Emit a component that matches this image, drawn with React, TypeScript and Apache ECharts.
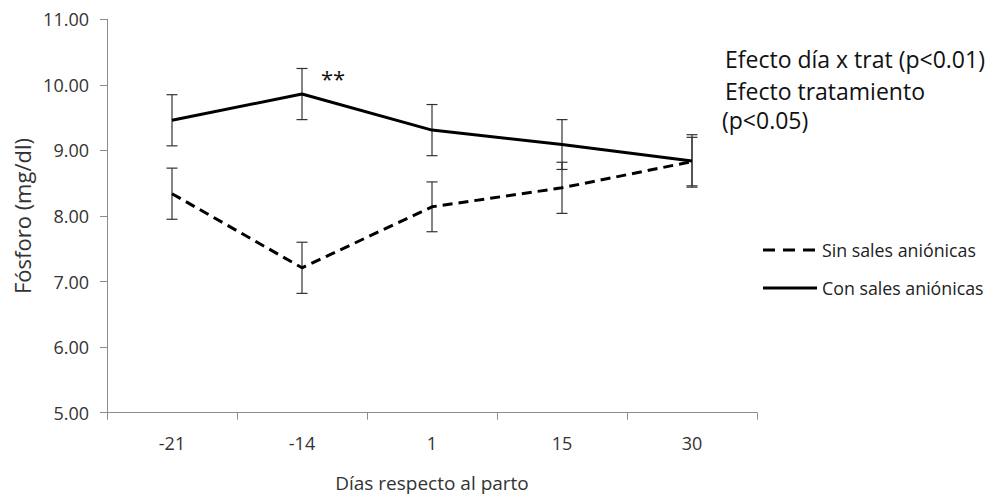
import React, { useEffect, useRef } from "react";
import * as echarts from "echarts";

const categories = ["-21", "-14", "1", "15", "30"];
const sinValues = [8.34, 7.21, 8.14, 8.43, 8.83];
const sinErr = [0.39, 0.39, 0.38, 0.39, 0.37];
const conValues = [9.46, 9.86, 9.31, 9.09, 8.84];
const conErr = [0.39, 0.39, 0.39, 0.38, 0.4];
const yTicks = [5, 6, 7, 8, 9, 10, 11];
const legendNames = ["Sin sales aniónicas", "Con sales aniónicas"];
const notes = ["Efecto día x trat (p<0.01)", "Efecto tratamiento", "(p<0.05)"];

const FONT = "Open Sans";
const TICK_SIZE = 18;
const TICK_COLOR = "#333333";

function errorSeries(name: string, values: number[], errs: number[]) {
  return {
    type: "custom",
    name: name + "-err",
    silent: true,
    z: 1,
    data: values.map((v, i) => [i, v - errs[i], v + errs[i]]),
    renderItem: (params: any, api: any) => {
      const x = api.value(0);
      const lo = api.coord([x, api.value(1)]);
      const hi = api.coord([x, api.value(2)]);
      const cap = 5.5;
      const st = { stroke: "#333333", lineWidth: 1.2 };
      return {
        type: "group",
        children: [
          { type: "line", shape: { x1: lo[0], y1: lo[1], x2: hi[0], y2: hi[1] }, style: st },
          { type: "line", shape: { x1: lo[0] - cap, y1: lo[1], x2: lo[0] + cap, y2: lo[1] }, style: st },
          { type: "line", shape: { x1: hi[0] - cap, y1: hi[1], x2: hi[0] + cap, y2: hi[1] }, style: st },
        ],
      };
    },
    encode: { x: 0, y: [1, 2] },
  };
}

// tick labels drawn through the axes' own scales
const yTickLabelSeries = {
  type: "custom",
  name: "y-ticks",
  silent: true,
  clip: false,
  z: 5,
  data: yTicks.map((v) => [0, v]),
  encode: { x: 0, y: 1 },
  renderItem: (params: any, api: any) => {
    const p = api.coord([0, api.value(1)]);
    return {
      type: "text",
      x: params.coordSys.x - 18,
      y: p[1],
      style: {
        text: yTicks[params.dataIndex].toFixed(2),
        fontFamily: FONT,
        fontSize: TICK_SIZE,
        fill: TICK_COLOR,
        align: "right",
        verticalAlign: "middle",
      },
    };
  },
};

const xTickLabelSeries = {
  type: "custom",
  name: "x-ticks",
  silent: true,
  clip: false,
  z: 5,
  data: categories.map((c, i) => [i, yTicks[0]]),
  encode: { x: 0, y: 1 },
  renderItem: (params: any, api: any) => {
    const p = api.coord([api.value(0), api.value(1)]);
    return {
      type: "text",
      x: p[0],
      y: p[1] + 30,
      style: {
        text: categories[params.dataIndex],
        fontFamily: FONT,
        fontSize: TICK_SIZE,
        fill: TICK_COLOR,
        align: "center",
        verticalAlign: "middle",
      },
    };
  },
};

export default function App() {
  const ref = useRef<HTMLDivElement>(null);
  useEffect(() => {
    if (!ref.current) return;
    const chart = echarts.init(ref.current, undefined, { renderer: "svg" });
    const txt = (text: string, x: number, y: number, size: number, fill = "#111111") => ({
      type: "text",
      x,
      y,
      style: {
        text,
        fontFamily: FONT,
        fontSize: size,
        fill,
        align: "left",
        verticalAlign: "middle",
      },
    });
    chart.setOption({
      animation: false,
      backgroundColor: "#ffffff",
      textStyle: { fontFamily: FONT },
      grid: { left: 107, right: 243, top: 19.3, bottom: 86.3, containLabel: false },
      xAxis: {
        type: "category",
        data: categories,
        boundaryGap: true,
        name: "Días respecto al parto",
        nameLocation: "middle",
        nameGap: 61,
        nameTextStyle: { fontFamily: FONT, fontSize: 19, color: "#333333" },
        axisLine: { lineStyle: { color: "#8c8c8c", width: 1 } },
        axisTick: { show: true, length: 7, lineStyle: { color: "#8c8c8c" } },
        axisLabel: { show: false },
        splitLine: { show: false },
      },
      yAxis: {
        type: "value",
        min: yTicks[0],
        max: yTicks[yTicks.length - 1],
        interval: 1,
        name: "Fósforo (mg/dl)",
        nameLocation: "middle",
        nameGap: 74,
        nameRotate: 90,
        nameTextStyle: { fontFamily: FONT, fontSize: 22, color: "#333333" },
        axisLine: { show: true, lineStyle: { color: "#8c8c8c", width: 1 } },
        axisTick: { show: true, length: 7, lineStyle: { color: "#8c8c8c" } },
        axisLabel: { show: false },
        splitLine: { show: false },
      },
      graphic: [
        {
          type: "text",
          x: 321,
          y: 67,
          style: { text: "**", fontFamily: FONT, fontSize: 22, fill: "#111111" },
        },
        txt(notes[0], 725, 59, 23),
        txt(notes[1], 725, 91, 23),
        txt(notes[2], 722, 120, 23),
        {
          type: "line",
          shape: { x1: 763, y1: 250, x2: 817, y2: 250 },
          style: { stroke: "#000000", lineWidth: 3, lineDash: [12, 8] },
        },
        {
          type: "line",
          shape: { x1: 763, y1: 288, x2: 817, y2: 288 },
          style: { stroke: "#000000", lineWidth: 3 },
        },
        txt(legendNames[0], 822, 250, 17.8, "#222222"),
        txt(legendNames[1], 822, 288, 17.8, "#222222"),
      ],
      series: [
        errorSeries("Sin", sinValues, sinErr),
        errorSeries("Con", conValues, conErr),
        {
          type: "line",
          name: legendNames[0],
          data: sinValues,
          symbol: "none",
          z: 3,
          lineStyle: { color: "#000000", width: 3, type: [10, 6] },
          itemStyle: { color: "#000000" },
        },
        {
          type: "line",
          name: legendNames[1],
          data: conValues,
          symbol: "none",
          z: 3,
          lineStyle: { color: "#000000", width: 3 },
          itemStyle: { color: "#000000" },
        },
        yTickLabelSeries,
        xTickLabelSeries,
      ],
    });
    return () => chart.dispose();
  }, []);
  return <div ref={ref} style={{ width: 1000, height: 499, position: "absolute", left: 0, top: 0 }} />;
}
